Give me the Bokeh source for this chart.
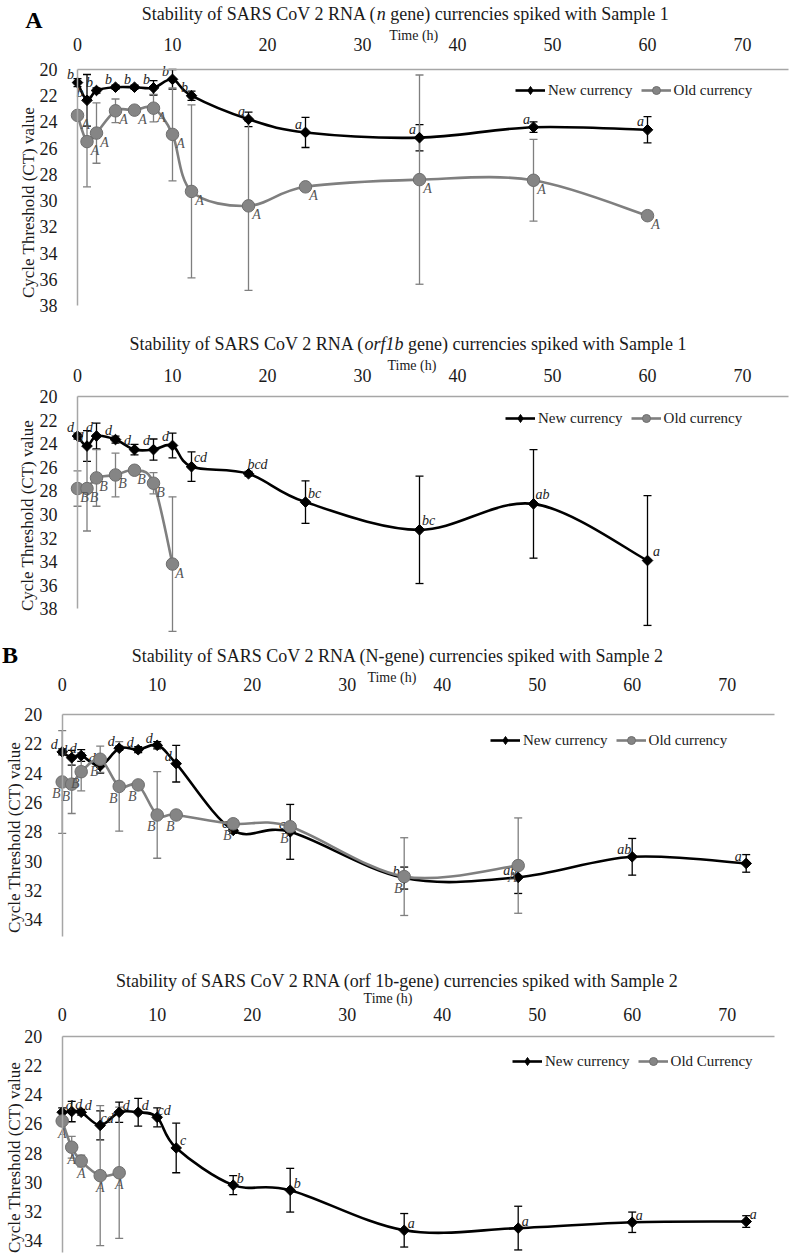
import numpy as np
from bokeh.plotting import figure
from bokeh.models import (Range1d, FixedTicker, Label, Legend, LegendItem,
                          Whisker, TeeHead, ColumnDataSource)
from bokeh.layouts import column
from bokeh.embed import file_html
from bokeh.resources import INLINE
from bokeh.core.properties import value

SERIF = "Liberation Serif"

# ---------------- data ----------------
# Panel A1: n gene, Sample 1
t1_new = [0, 1, 2, 4, 6, 8, 10, 12, 18, 24, 36, 48, 60]
new1 = [21.0, 22.35, 21.6, 21.35, 21.35, 21.4, 20.75, 22.0, 23.8, 24.8, 25.2, 24.4, 24.6]
new1_err = [0.3, 1.97, 0.2, 0.15, 0.15, 0.55, 0.75, 0.35, 0.55, 1.15, 1.0, 0.4, 1.0]
new1_lab = ["b", "b", "b", "b", "b", "b", "b", "b", "a", "a", "a", "a", "a"]
t1_old = [0, 1, 2, 4, 6, 8, 10, 12, 18, 24, 36, 48, 60]
old1 = [23.5, 25.5, 24.85, 23.15, 23.1, 22.95, 24.95, 29.3, 30.4, 28.95, 28.4, 28.45, 31.15]
old1_err = [0.0, 3.45, 2.3, 0.9, 0.0, 1.05, 3.55, 6.6, 6.45, 0.0, 7.98, 3.12, 0.0]
old1_lab = ["A"] * 13

# Panel A2: orf1b gene, Sample 1
t2_new = [0, 1, 2, 4, 6, 8, 10, 12, 18, 24, 36, 48, 60]
new2 = [23.35, 24.2, 23.35, 23.65, 24.5, 24.5, 24.15, 25.95, 26.55, 28.95, 31.3, 29.1, 33.9]
new2_err = [0.25, 1.3, 1.1, 0.3, 0.45, 0.9, 1.05, 1.25, 0.2, 1.8, 4.55, 4.6, 5.5]
new2_lab = ["d", "d", "d", "d", "d", "d", "d", "cd", "bcd", "bc", "bc", "ab", "a"]
t2_old = [0, 1, 2, 4, 6, 8, 10]
old2 = [27.8, 27.8, 26.9, 26.65, 26.25, 27.35, 34.2]
old2_err = [1.5, 3.6, 2.4, 1.85, 0.0, 0.9, 5.7]
old2_lab = ["B", "B", "B", "B", "B", "B", "A"]

# Panel B1: N-gene, Sample 2
t3_new = [0, 1, 2, 4, 6, 8, 10, 12, 18, 24, 36, 48, 60, 72]
new3 = [22.55, 22.95, 22.8, 23.5, 22.3, 22.4, 22.1, 23.35, 27.9, 28.0, 31.15, 31.1, 29.7, 30.15]
new3_err = [0.2, 0.5, 0.4, 0.5, 0.15, 0.2, 0.25, 1.25, 0.2, 1.87, 0.75, 1.1, 1.25, 0.6]
new3_lab = ["d", "d", "d", "d", "d", "d", "d", "d", "c", "c", "b", "ab", "ab", "a"]
t3_old = [0, 1, 2, 4, 6, 8, 10, 12, 18, 24, 36, 48]
old3 = [24.6, 24.75, 23.9, 23.05, 24.9, 24.8, 26.85, 26.85, 27.45, 27.65, 31.05, 30.3]
old3_err = [3.5, 2.0, 1.3, 0.9, 3.05, 0.0, 2.95, 0.0, 0.0, 0.0, 2.65, 3.25]
old3_lab = ["B"] * 11 + ["A"]

# Panel B2: orf 1b-gene, Sample 2
t4_new = [0, 1, 2, 4, 6, 8, 10, 12, 18, 24, 36, 48, 60, 72]
new4 = [25.2, 25.15, 25.2, 26.1, 25.2, 25.2, 25.55, 27.65, 30.2, 30.55, 33.3, 33.15, 32.75, 32.7]
new4_err = [0.3, 0.7, 0.2, 1.0, 0.7, 0.95, 0.65, 1.7, 0.65, 1.5, 1.15, 1.5, 0.7, 0.4]
new4_lab = ["d", "d", "d", "cd", "d", "d", "cd", "c", "b", "b", "a", "a", "a", "a"]
t4_old = [0, 1, 2, 4, 6]
old4 = [25.8, 27.6, 28.55, 29.55, 29.35]
old4_err = [0.0, 0.75, 0.4, 4.8, 4.5]
old4_lab = ["A"] * 5

x_ticks = [0, 10, 20, 30, 40, 50, 60, 70]
y_ticks_38 = [20, 22, 24, 26, 28, 30, 32, 34, 36, 38]
y_ticks_34 = [20, 22, 24, 26, 28, 30, 32, 34]
y_title = "Cycle Threshold (CT) value"

# ---------------- styles ----------------
AX = "#a6a6a6"
TXT = "#1a1a1a"
NEW_C = "#000000"
OLD_C = "#7f7f7f"
OLD_FILL = "#858585"
OLD_EDGE = "#6e6e6e"
PXU = 9.5   # px per hour
W = 791


def smooth_segments(x, y, t=1.0 / 6.0):
    x = np.asarray(x, float)
    y = np.asarray(y, float)
    n = len(x)
    xp = np.concatenate([[x[0]], x, [x[-1]]])
    yp = np.concatenate([[y[0]], y, [y[-1]]])
    return dict(
        x0=x[:-1], y0=y[:-1], x1=x[1:], y1=y[1:],
        cx0=x[:-1] + (xp[2:n + 1] - xp[0:n - 1]) * t,
        cy0=y[:-1] + (yp[2:n + 1] - yp[0:n - 1]) * t,
        cx1=x[1:] - (xp[3:n + 2] - xp[1:n]) * t,
        cy1=y[1:] - (yp[3:n + 2] - yp[1:n]) * t,
    )


def add_series(p, t, v, err, labs, kind, lab_dx, lab_dy):
    col = NEW_C if kind == "new" else OLD_C
    seg = smooth_segments(t, v)
    bz = p.bezier(x0="x0", y0="y0", x1="x1", y1="y1", cx0="cx0", cy0="cy0",
                  cx1="cx1", cy1="cy1", source=ColumnDataSource(seg),
                  line_color=col, line_width=2.6)
    v = np.asarray(v, float)
    e = np.asarray(err, float)
    src = ColumnDataSource(dict(x=list(t), y=list(v), up=list(v - e), lo=list(v + e),
                                lab=list(labs), dx=list(lab_dx), dy=list(lab_dy)))
    w = Whisker(base="x", upper="up", lower="lo", source=src, dimension="height",
                line_color=col, line_width=1.3,
                upper_head=TeeHead(size=8, line_color=col, line_width=1.3),
                lower_head=TeeHead(size=8, line_color=col, line_width=1.3))
    p.add_layout(w)
    nan_src = ColumnDataSource(dict(x=[float("nan")], y=[float("nan")]))
    if kind == "new":
        p.scatter("x", "y", source=src, marker="square", size=7.5, angle=np.pi / 4,
                  fill_color=NEW_C, line_color=NEW_C)
        leg = p.scatter("x", "y", source=nan_src, marker="diamond", size=10,
                        fill_color=NEW_C, line_color=NEW_C)
        tcol = "#222222"
    else:
        p.scatter("x", "y", source=src, marker="circle", size=12.5,
                  fill_color=OLD_FILL, line_color=OLD_EDGE, line_width=1)
        leg = p.scatter("x", "y", source=nan_src, marker="circle", size=10,
                        fill_color=OLD_FILL, line_color=OLD_EDGE, line_width=1)
        tcol = "#555555"
    p.text("x", "y", text="lab", source=src, x_offset="dx", y_offset="dy",
           text_font=value(SERIF), text_font_style="italic", text_font_size="14px",
           text_color=tcol, text_align="center", text_baseline="middle")
    return bz, leg


def make_panel(H, x0px, y_top, y_bot, ybound, yticks, xbound,
               title_parts, title_x, title_y, time_x, time_y, letter, letter_x,
               letter_y, xstand, ylab_x, ylab_y):
    xs = -x0px / PXU
    xe = (W - x0px) / PXU
    p = figure(width=W, height=H, x_range=Range1d(xs, xe), y_range=Range1d(y_bot, y_top),
               x_axis_location="above", output_backend="svg", toolbar_location=None,
               min_border_left=0, min_border_right=0, min_border_top=0,
               min_border_bottom=0, outline_line_color=None, title=None,
               background_fill_color="white", border_fill_color="white")
    p.grid.visible = False
    xa = p.xaxis[0]
    xa.fixed_location = 20
    xa.ticker = FixedTicker(ticks=x_ticks)
    xa.bounds = (0, xbound)
    xa.major_tick_line_color = None
    xa.minor_tick_line_color = None
    xa.axis_line_color = AX
    xa.axis_line_width = 1.5
    xa.major_label_text_font = SERIF
    xa.major_label_text_font_size = "18px"
    xa.major_label_text_color = TXT
    xa.major_label_standoff = xstand
    ya = p.yaxis[0]
    ya.fixed_location = 0
    ya.ticker = FixedTicker(ticks=yticks)
    ya.bounds = (20, ybound)
    ya.major_tick_line_color = None
    ya.minor_tick_line_color = None
    ya.axis_line_color = AX
    ya.axis_line_width = 1.5
    ya.major_label_text_font = SERIF
    ya.major_label_text_font_size = "18px"
    ya.major_label_text_color = TXT
    ya.major_label_standoff = 14

    p.add_layout(Label(x=ylab_x, y=ylab_y, x_units="data", y_units="screen",
                       text=y_title, angle=np.pi / 2, text_font=SERIF,
                       text_font_size="17px", text_color=TXT, text_align="center",
                       text_baseline="middle"))
    for txt, style, align, off in title_parts:
        p.add_layout(Label(x=title_x, y=title_y, x_units="data", y_units="screen",
                           text=txt, text_font=SERIF, text_font_size="18px",
                           text_font_style=style, text_color=TXT, text_align=align,
                           text_baseline="middle", x_offset=off))
    p.add_layout(Label(x=time_x, y=time_y, x_units="data", y_units="screen",
                       text="Time (h)", text_font=SERIF, text_font_size="14px",
                       text_color=TXT, text_align="center", text_baseline="middle"))
    if letter:
        p.add_layout(Label(x=letter_x, y=letter_y, x_units="data", y_units="screen",
                           text=letter, text_font=SERIF, text_font_size="24px",
                           text_font_style="bold", text_color="#000000",
                           text_align="center", text_baseline="middle"))
    return p


def finish_legend(p, items, xy):
    leg = Legend(items=items, location=xy, orientation="horizontal",
                 padding=0, margin=0, spacing=8, label_standoff=3,
                 glyph_width=30, glyph_height=20, label_height=20,
                 border_line_alpha=0, background_fill_alpha=0,
                 label_text_font=SERIF, label_text_font_size="15px",
                 label_text_color=TXT)
    p.add_layout(leg)


# ---- Panel 1 ----
p1 = make_panel(H=325, x0px=77, y_top=20 - 69 / 13.11, y_bot=20 + 256 / 13.11,
                ybound=38, yticks=y_ticks_38, xbound=74.8,
                title_parts=[("Stability of SARS CoV 2 RNA (", "normal", "right", -28.5),
                             ("n", "italic", "left", -28.5),
                             ("gene) currencies spiked with Sample 1", "normal", "left", -15)],
                title_x=34.5, title_y=312, time_x=35.4, time_y=290,
                letter="A", letter_x=-4.6, letter_y=306, xstand=13,
                ylab_x=-5.2, ylab_y=123)
b1n, s1n = add_series(p1, t1_new, new1, new1_err, new1_lab, "new", [-7] * 13, [-8] * 13)
b1o, s1o = add_series(p1, t1_old, old1, old1_err, old1_lab, "old", [8] * 13, [9] * 13)
finish_legend(p1, [LegendItem(label="New currency", renderers=[b1n, s1n]),
                   LegendItem(label="Old currency", renderers=[b1o, s1o])], (515, 225))

# ---- Panel 2 ----
p2 = make_panel(H=315, x0px=77, y_top=20 - 71 / 11.8, y_bot=20 + 244 / 11.8,
                ybound=38, yticks=y_ticks_38, xbound=74.8,
                title_parts=[("Stability of SARS CoV 2 RNA (", "normal", "right", -43.5),
                             ("orf1b", "italic", "left", -43.5),
                             ("gene) currencies spiked with Sample 1", "normal", "left", 0)],
                title_x=34.8, title_y=297, time_x=35.2, time_y=275,
                letter=None, letter_x=0, letter_y=0, xstand=9,
                ylab_x=-5.25, ylab_y=125)
dx2 = [-7 if t <= 10 else 9 for t in t2_new]
b2n, s2n = add_series(p2, t2_new, new2, new2_err, new2_lab, "new", dx2, [-9] * 13)
b2o, s2o = add_series(p2, t2_old, old2, old2_err, old2_lab, "old", [7] * 7, [9] * 7)
finish_legend(p2, [LegendItem(label="New currency", renderers=[b2n, s2n]),
                   LegendItem(label="Old currency", renderers=[b2o, s2o])], (505, 212))

# ---- Panel 3 ----
p3 = make_panel(H=317, x0px=61.7, y_top=20 - 74 / 14.67, y_bot=20 + 243 / 14.67,
                ybound=35.1, yticks=y_ticks_34, xbound=75,
                title_parts=[("Stability of SARS CoV 2 RNA (N-gene) currencies spiked with Sample 2",
                              "normal", "center", 0)],
                title_x=35.35, title_y=302, time_x=34.7, time_y=280,
                letter="B", letter_x=-5.5, letter_y=303, xstand=18,
                ylab_x=-5.05, ylab_y=120)
b3n, s3n = add_series(p3, t3_new, new3, new3_err, new3_lab, "new", [-8] * 14, [-7] * 14)
b3o, s3o = add_series(p3, t3_old, old3, old3_err, old3_lab, "old", [-6] * 12, [12] * 12)
finish_legend(p3, [LegendItem(label="New currency", renderers=[b3n, s3n]),
                   LegendItem(label="Old currency", renderers=[b3o, s3o])], (490, 207))

# ---- Panel 4 ----
p4 = make_panel(H=297, x0px=61.7, y_top=20 - 79 / 14.57, y_bot=20 + 218 / 14.57,
                ybound=34.8, yticks=y_ticks_34, xbound=75,
                title_parts=[("Stability of SARS CoV 2 RNA (orf 1b-gene) currencies spiked with Sample 2",
                              "normal", "center", 0)],
                title_x=35.3, title_y=274, time_x=34.3, time_y=256,
                letter=None, letter_x=0, letter_y=0, xstand=10,
                ylab_x=-5.05, ylab_y=97)
b4n, s4n = add_series(p4, t4_new, new4, new4_err, new4_lab, "new", [7] * 14, [-7] * 14)
b4o, s4o = add_series(p4, t4_old, old4, old4_err, old4_lab, "old", [0] * 5, [12] * 5)
finish_legend(p4, [LegendItem(label="New currency", renderers=[b4n, s4n]),
                   LegendItem(label="Old Currency", renderers=[b4o, s4o])], (512, 183))

layout = column(p1, p2, p3, p4, spacing=0)
open("out.html", "w").write(file_html(layout, INLINE))
